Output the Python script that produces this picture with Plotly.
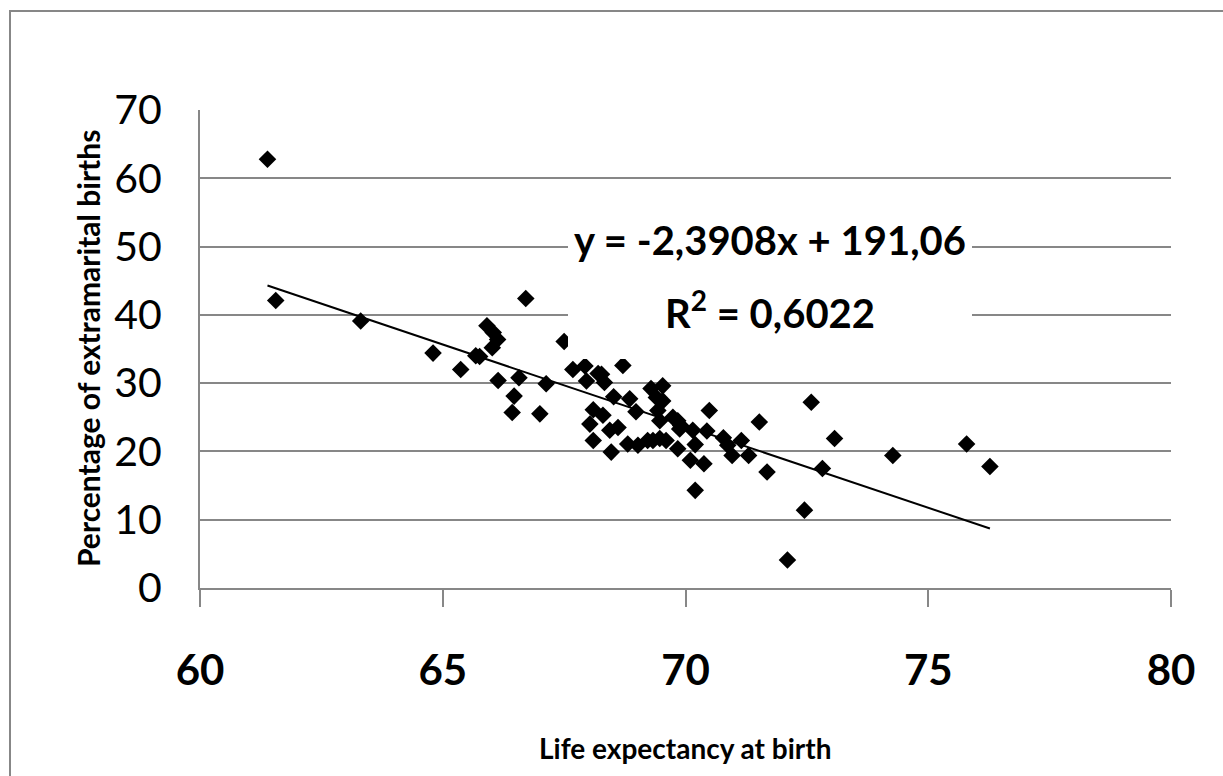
import plotly.graph_objects as go

# Data
life_expectancy = [
    61.39, 61.56, 63.31, 64.80, 65.37, 65.68, 65.76, 65.91, 66.04, 66.13,
    66.02, 66.14, 66.57, 66.47, 66.43, 67.00, 67.13, 66.71, 67.50, 67.68,
    67.93, 67.96, 68.10, 68.03, 68.10, 68.27, 68.33, 68.30, 68.44, 68.47,
    68.52, 68.61, 68.71, 68.85, 68.81, 68.98, 69.02, 69.22, 69.33, 69.47,
    69.60, 69.29, 69.40, 69.53, 69.43, 69.47, 69.53, 69.74, 69.84, 69.88,
    69.84, 70.10, 70.20, 70.15, 70.20, 70.38, 70.49, 70.44, 70.78, 70.96,
    70.87, 71.15, 71.30, 71.52, 71.68, 72.59, 73.07, 74.27, 75.79, 76.27,
    72.82, 72.45, 72.10, 69.90, 68.20,
]
extramarital_pct = [
    62.8, 42.1, 39.1, 34.4, 32.0, 34.0, 33.9, 38.4, 37.4, 36.4,
    35.2, 30.4, 30.8, 28.1, 25.7, 25.5, 29.9, 42.4, 36.1, 32.0,
    32.5, 30.3, 26.1, 24.0, 21.6, 31.3, 30.1, 25.3, 23.1, 19.9,
    28.0, 23.5, 32.6, 27.7, 21.1, 25.8, 20.9, 21.6, 21.6, 21.9,
    21.6, 29.2, 27.9, 29.6, 26.0, 24.5, 27.4, 25.0, 24.5, 23.3,
    20.4, 18.7, 14.3, 23.1, 21.0, 18.2, 26.0, 23.0, 22.0, 19.4,
    20.9, 21.6, 19.4, 24.3, 17.0, 27.2, 21.9, 19.4, 21.1, 17.8,
    17.5, 11.4, 4.1, 23.8, 31.4,
]

# Linear trend line as reported on the chart
trend_slope = -2.3908
trend_intercept = 191.06
equation_label = "y = -2,3908x + 191,06"
r2_label = "R<sup>2</sup> = 0,6022"

x_tick_values = [60, 65, 70, 75, 80]
y_tick_values = [0, 10, 20, 30, 40, 50, 60, 70]
x_title = "Life expectancy at birth"
y_title = "Percentage of extramarital births"

trend_x = [min(life_expectancy), max(life_expectancy)]
trend_y = [trend_slope * v + trend_intercept for v in trend_x]

GRAY = "#878787"
FONT = "Lato"

W, H = 1223, 776
L, R, T, B = 200, 52, 110, 188
PW = W - L - R
PH = H - T - B


def px(xpix):
    return (xpix - L) / PW


def py(ypix):
    return 1 - (ypix - T) / PH


fig = go.Figure()
fig.add_trace(go.Scatter(
    x=life_expectancy, y=extramarital_pct, mode="markers",
    marker=dict(symbol="diamond", size=13.5, color="black", line=dict(width=0)),
    cliponaxis=False, showlegend=False,
))
fig.add_trace(go.Scatter(
    x=trend_x, y=trend_y, mode="lines",
    line=dict(color="black", width=2), showlegend=False,
))

fig.update_layout(
    width=W, height=H, autosize=False,
    margin=dict(l=L, r=R, t=T, b=B, pad=0),
    paper_bgcolor="white", plot_bgcolor="white",
    xaxis=dict(
        range=[60, 80], tickvals=x_tick_values, showgrid=False, zeroline=False,
        showline=True, linecolor=GRAY, linewidth=2,
        ticks="outside", ticklen=17, tickwidth=2, tickcolor=GRAY,
        tickfont=dict(family=FONT, size=42, color="black", weight="bold"),
        ticklabelstandoff=28,
    ),
    yaxis=dict(
        range=[0, 70], tickvals=y_tick_values, showgrid=True, gridcolor=GRAY,
        gridwidth=2, zeroline=False, showline=True, linecolor=GRAY, linewidth=2,
        ticks="inside", ticklen=12, tickwidth=2, tickcolor=GRAY,
        tickfont=dict(family=FONT, size=41, color="black"),
        ticklabelstandoff=28,
    ),
    shapes=[
        dict(type="rect", xref="paper", yref="paper",
             x0=px(10), x1=px(1260), y0=py(800), y1=py(11),
             line=dict(color=GRAY, width=2), fillcolor="rgba(0,0,0,0)", layer="below"),
        dict(type="rect", xref="paper", yref="paper",
             x0=px(568), x1=px(972), y0=py(359), y1=py(205),
             line=dict(width=0), fillcolor="white", layer="above"),
    ],
    annotations=[
        dict(text=equation_label, xref="paper", yref="paper", x=px(770), y=py(240),
             showarrow=False, xanchor="center", yanchor="middle",
             font=dict(family=FONT, size=40, color="black", weight="bold")),
        dict(text=r2_label, xref="paper", yref="paper", x=px(770), y=py(310),
             showarrow=False, xanchor="center", yanchor="middle",
             font=dict(family=FONT, size=40, color="black", weight="bold")),
        dict(text=y_title, xref="paper", yref="paper", x=px(88), y=0.5,
             textangle=-90, showarrow=False, xanchor="center", yanchor="middle",
             font=dict(family=FONT, size=30, color="black", weight="bold")),
        dict(text=x_title, xref="paper", yref="paper", x=px(685), y=py(748),
             showarrow=False, xanchor="center", yanchor="middle",
             font=dict(family=FONT, size=28, color="black", weight="bold")),
    ],
)

fig.write_html("out.html", config={"displayModeBar": False},
               post_script="document.body.style.margin='0';")
